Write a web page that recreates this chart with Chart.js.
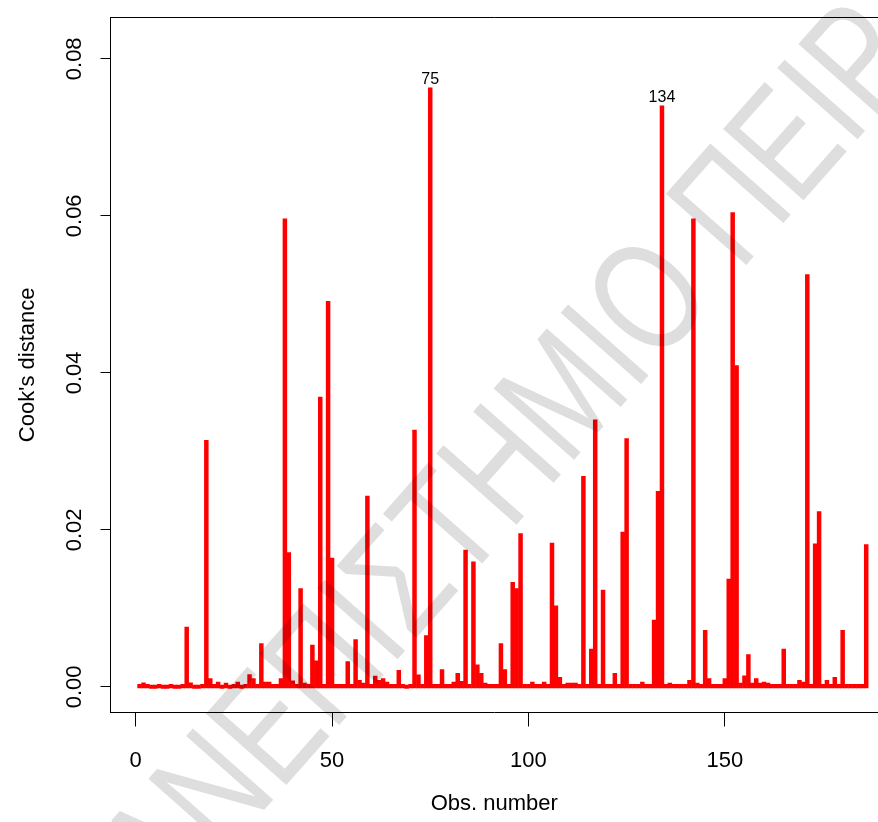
<!DOCTYPE html>
<html>
<head>
<meta charset="utf-8">
<script src="https://cdn.jsdelivr.net/npm/chart.js@4"></script>
<style>
  html, body { margin: 0; padding: 0; background: #fff; }
  #wrap { width: 878px; height: 822px; }
</style>
</head>
<body>
<div id="wrap"><canvas id="cookChart" width="878" height="822"></canvas></div>
<script>
const cooksDistance = [
  0.0001, 0.0003, 0.0001, 0.0000, 0.0000, 0.0001, 0.0000, 0.0000, 0.0001, 0.0000,
  0.0000, 0.0001, 0.0074, 0.0003, 0.0000, 0.0000, 0.0001, 0.0312, 0.00085, 0.0001,
  0.0004, 0.0000, 0.00025, 0.0000, 0.0001, 0.0004, 0.0000, 0.0001, 0.00135, 0.00085,
  0.0001, 0.0053, 0.0004, 0.0004, 0.0001, 0.0001, 0.00085, 0.0594, 0.0169, 0.00055,
  0.0001, 0.0123, 0.00025, 0.0001, 0.0051, 0.0031, 0.0367, 0.0001, 0.0489, 0.0162,
  0.0001, 0.0001, 0.0001, 0.0030, 0.0001, 0.0058, 0.0006, 0.00025, 0.0241, 0.0001,
  0.00115, 0.0006, 0.00085, 0.0004, 0.0001, 0.0001, 0.0019, 0.0001, 0.0000, 0.0001,
  0.0325, 0.0013, 0.0001, 0.0063, 0.0761, 0.0001, 0.0001, 0.0020, 0.0001, 0.0001,
  0.0004, 0.0015, 0.0005, 0.0172, 0.0001, 0.0157, 0.0026, 0.0015, 0.00025, 0.0001,
  0.0001, 0.0001, 0.0053, 0.0020, 0.0001, 0.0131, 0.0123, 0.0193, 0.0001, 0.0001,
  0.0004, 0.0001, 0.0001, 0.0004, 0.0001, 0.0181, 0.0101, 0.0010, 0.0001, 0.00025,
  0.00025, 0.00025, 0.0001, 0.0266, 0.0001, 0.0046, 0.0338, 0.0001, 0.0121, 0.0001,
  0.0001, 0.0015, 0.0001, 0.0195, 0.0314, 0.0001, 0.0001, 0.0001, 0.0004, 0.0001,
  0.0001, 0.0083, 0.0247, 0.0738, 0.0001, 0.00025, 0.0001, 0.0001, 0.0001, 0.0001,
  0.0006, 0.0594, 0.00025, 0.0001, 0.0070, 0.00085, 0.0001, 0.0001, 0.0001, 0.00085,
  0.0135, 0.0602, 0.0407, 0.00025, 0.0012, 0.0039, 0.00025, 0.00085, 0.00025, 0.0004,
  0.00025, 0.0001, 0.0001, 0.0001, 0.0046, 0.0001, 0.0001, 0.0001, 0.0006, 0.0004,
  0.0523, 0.0001, 0.0180, 0.0221, 0.0001, 0.0006, 0.0001, 0.0010, 0.0001, 0.0070,
  0.0001, 0.0001, 0.0001, 0.0001, 0.0001, 0.0179
];
const obsNumbers = cooksDistance.map((v, i) => i + 1);
const labelledObs = [75, 134];

const xTicks = [0, 50, 100, 150];
const yTicks = [0, 0.02, 0.04, 0.06, 0.08];
const xTitle = 'Obs. number';
const yTitle = "Cook's distance";
const watermarkText = 'ΠΑΝΕΠΙΣΤΗΜΙΟ ΠΕΙΡΑΙΩΣ';

const FONT = 'Liberation Sans, Arial, sans-serif';

// box on top (left/bottom come from the axes, right edge is cropped in the original)
const plotBox = {
  id: 'plotBox',
  afterDraw(chart) {
    const { ctx, chartArea: a } = chart;
    ctx.save();
    ctx.strokeStyle = '#000';
    ctx.lineWidth = 1;
    ctx.beginPath();
    ctx.moveTo(a.left, Math.round(a.top) + 0.5);
    ctx.lineTo(chart.width, Math.round(a.top) + 0.5);
    ctx.stroke();
    ctx.restore();
  }
};

// id labels above the biggest values
const obsLabels = {
  id: 'obsLabels',
  afterDatasetsDraw(chart) {
    const { ctx, scales: { x, y } } = chart;
    ctx.save();
    ctx.font = '16px ' + FONT;
    ctx.fillStyle = '#000';
    ctx.textAlign = 'center';
    ctx.textBaseline = 'middle';
    labelledObs.forEach(n => {
      const px = x.getPixelForValue(n);
      const py = y.getPixelForValue(cooksDistance[n - 1]);
      ctx.fillText(String(n), px, py - 10);
    });
    ctx.restore();
  }
};

// faint diagonal watermark over the whole picture
const watermark = {
  id: 'watermark',
  afterDraw(chart) {
    const ctx = chart.ctx;
    const size = 120;
    ctx.save();
    ctx.globalCompositeOperation = 'multiply';
    ctx.fillStyle = '#dedede';
    ctx.translate(70, 945);
    ctx.rotate(-48.5 * Math.PI / 180);
    ctx.scale(1, 1.3);
    ctx.font = size + 'px ' + FONT;
    ctx.textAlign = 'left';
    ctx.textBaseline = 'alphabetic';
    ctx.fillText(watermarkText, 0, 0.358 * size);
    ctx.restore();
  }
};

new Chart(document.getElementById('cookChart'), {
  type: 'bar',
  data: {
    datasets: [{
      data: obsNumbers.map((n, i) => ({ x: n, y: cooksDistance[i] })),
      backgroundColor: '#ff0000',
      borderWidth: 0,
      barThickness: 0.5,
      inflateAmount: 2
    }]
  },
  options: {
    responsive: false,
    devicePixelRatio: 1,
    animation: false,
    layout: { padding: { top: 15, right: 0, left: 0, bottom: 0 } },
    plugins: { legend: { display: false }, tooltip: { enabled: false } },
    scales: {
      x: {
        type: 'linear',
        min: -6.4,
        max: 189.0,
        offset: false,
        afterBuildTicks: axis => { axis.ticks = xTicks.map(v => ({ value: v })); },
        afterFit: axis => { axis.height = 109.5; },
        grid: { offset: false, drawOnChartArea: false, drawTicks: true, tickLength: 14, color: '#000' },
        border: { display: true, color: '#000' },
        ticks: {
          color: '#000', font: { family: FONT, size: 22 }, padding: 21,
          maxRotation: 0, autoSkip: false, callback: v => String(v)
        },
        title: {
          display: true, text: xTitle, color: '#000',
          font: { family: FONT, size: 22 }, padding: { top: 0, bottom: 5 }
        }
      },
      y: {
        min: -0.00327,
        max: 0.0853,
        afterBuildTicks: axis => { axis.ticks = yTicks.map(v => ({ value: v })); },
        afterFit: axis => { axis.width = 110.5; },
        grid: { drawOnChartArea: false, drawTicks: true, tickLength: 10, color: '#000' },
        border: { display: true, color: '#000' },
        ticks: {
          color: '#000', font: { family: FONT, size: 22 }, padding: 4,
          minRotation: 90, maxRotation: 90, crossAlign: 'center',
          callback: v => v.toFixed(2)
        },
        title: {
          display: true, text: yTitle, color: '#000',
          font: { family: FONT, size: 22 }, padding: { top: 15, bottom: 0 }
        }
      }
    }
  },
  plugins: [obsLabels, plotBox, watermark]
});
</script>
</body>
</html>
